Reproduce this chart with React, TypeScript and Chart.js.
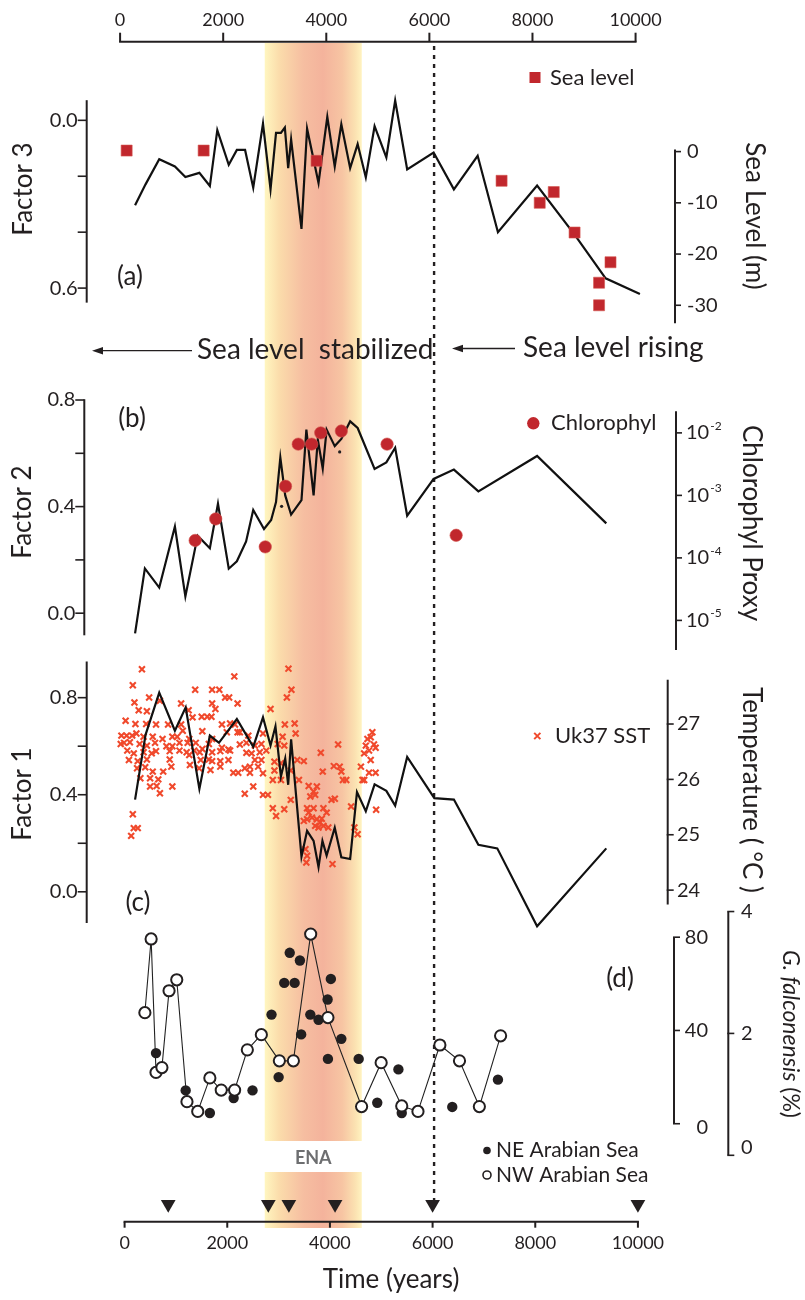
import React, { useEffect, useRef } from "react";
import { Chart, registerables } from "chart.js";

Chart.register(...registerables);

const W = 805;
const H = 1300;

// ---------------- data ----------------
const yearTicks = [0, 2000, 4000, 6000, 8000, 10000];
const enaStartYear = 2730;
const enaEndYear = 4620;
const seaLevelTransitionYear = 6000;
const datingYears = [850, 2800, 3200, 4100, 6000, 10000];

const factor3Ticks = [0, 0.2, 0.4, 0.6];
const factor3Labeled = [0, 0.6];
const seaLevelTicks = [0, -10, -20, -30];
const factor2Ticks = [0.8, 0.6, 0.4, 0.2, 0];
const factor2Labeled = [0.8, 0.4, 0];
const chlorophylTicks = [1e-2, 1e-3, 1e-4, 1e-5];
const factor1Ticks = [0.8, 0.6, 0.4, 0.2, 0];
const factor1Labeled = [0.8, 0.4, 0];
const temperatureTicks = [27, 26, 25, 24];
const neTicks = [80, 40, 0];
const nwTicks = [4, 2, 0];

const factor3Years = [204, 408, 675, 980, 1184, 1457, 1661, 1806, 2029, 2187, 2347, 2506, 2696, 2843, 2950, 3045, 3122, 3187, 3244, 3446, 3555, 3778, 3949, 4094, 4222, 4394, 4540, 4699, 4870, 5099, 5271, 5505, 6020, 6415, 6878, 7273, 8036, 8766, 9371, 10039];
const factor3Values = [0.304, 0.229, 0.139, 0.165, 0.203, 0.188, 0.235, 0.035, 0.159, 0.106, 0.106, 0.241, 0.012, 0.247, 0.045, 0.045, 0.026, 0.171, 0.068, 0.388, 0.03, 0.224, -0.012, 0.165, 0.014, 0.171, 0.085, 0.204, 0.021, 0.133, -0.071, 0.176, 0.115, 0.247, 0.127, 0.4, 0.233, 0.409, 0.565, 0.621];

const seaLevelYears = [40, 1540, 3740, 7344, 8087, 8360, 8766, 9466, 9243, 9243];
const seaLevelValues = [0.2, 0.2, -1.8, -5.7, -10, -7.9, -15.8, -21.6, -25.6, -30];

const factor2Years = [204, 395, 675, 980, 1184, 1424, 1661, 1819, 2029, 2187, 2367, 2506, 2716, 2855, 2950, 3034, 3129, 3244, 3446, 3541, 3682, 3764, 3860, 3936, 4094, 4222, 4394, 4540, 4870, 5099, 5271, 5505, 6020, 6415, 6892, 8036, 9384];
const factor2Values = [-0.076, 0.168, 0.096, 0.325, 0.063, 0.291, 0.244, 0.411, 0.167, 0.195, 0.269, 0.387, 0.316, 0.35, 0.417, 0.584, 0.442, 0.37, 0.424, 0.689, 0.442, 0.652, 0.543, 0.689, 0.627, 0.654, 0.72, 0.695, 0.541, 0.566, 0.621, 0.366, 0.504, 0.539, 0.457, 0.59, 0.337];

const chlorophylYears = [1375, 1775, 2740, 3135, 3383, 3644, 3821, 4222, 5113, 6459];
const chlorophylValues = [1.9e-4, 4.2e-4, 1.5e-4, 1.4e-3, 6.6e-3, 6.6e-3, 1.0e-2, 1.07e-2, 6.6e-3, 2.3e-4];

const factor2DotYears = [3059, 4190];
const factor2DotValues = [0.401, 0.605];

const factor1Years = [204, 408, 675, 980, 1190, 1457, 1661, 1838, 2187, 2506, 2696, 2843, 2939, 3045, 3129, 3187, 3244, 3446, 3555, 3682, 3778, 3854, 3936, 4094, 4222, 4394, 4527, 4699, 4870, 5099, 5271, 5505, 6034, 6415, 6892, 7260, 8036, 9384];
const factor1Values = [0.38, 0.647, 0.821, 0.664, 0.76, 0.424, 0.644, 0.614, 0.712, 0.597, 0.719, 0.603, 0.682, 0.475, 0.549, 0.441, 0.628, 0.145, 0.251, 0.21, 0.102, 0.21, 0.149, 0.264, 0.142, 0.135, 0.411, 0.332, 0.443, 0.416, 0.355, 0.556, 0.386, 0.38, 0.194, 0.179, -0.142, 0.179];

const uk37Years = [
  338, 160, 2137, 1375, 1705, 1845, 478, 192, 688, 1101, 1705, 1959, 2036, 2201, 275, 434, 1247, 1769, 20, 211,
  421, 612, 847, 1101, 1324, 1502, 1610, 1692, 1896, 2055, 2150, 2245, -62, 40, 148, 230, 370, 548, 739, 930,
  1025, 1133, 1260, 1514, 1705, 1991, 2201, -11, 103, 294, 434, 593, 815, 930, 1069, 1228, 1387, 1514, 1641, 1896,
  2023, 2245, 2373, 52, 179, 370, 529, 612, 879, 1069, 1209, 1355, 1464, 1705, 1864, 2055, -75, 84, 256, 434,
  879, 1260, 1483, 1641, 1705, 1864, 2023, 2373, 243, 402, 548, 752, 910, 1273, 1451, 1673, 1864, 2118, 2214, 2341,
  307, 497, 656, 624, 497, 930, 688, 2341, 160, 179, 256, 128,
  3192, 3250, 3161, 2843, 3122, 3313, 3332, 2410, 2696, 2538, 2665, 3078, 3110, 2983, 2474, 2633, 2760, 2538, 2665, 2442,
  2601, 2919, 3046, 3364, 3491, 3237, 2919, 2696, 2442, 2887, 3046, 3396, 2506, 2696, 2792, 3237, 2887, 3110, 2951, 3586,
  3745, 3682, 3618, 3713, 3555, 3682, 3586, 3650, 3491, 3555, 3745, 3809, 3873, 3936, 4031, 4095, 3841, 3873, 3968, 3777,
  3713, 3523, 3555, 3822, 3860, 4159, 4076, 4190, 4222, 4254, 4318, 4413, 4476, 4540, 4604, 4635, 4667, 4762, 4826, 4794,
  4731, 4858, 4890, 4794, 4762, 4890, 4667, 4699, 4900, 3540, 4050,
];
const uk37Temps = [
  27.99, 27.7, 27.86, 27.62, 27.62, 27.62, 27.48, 27.39, 27.42, 27.37, 27.37, 27.48, 27.48, 27.37, 27.25, 27.23, 27.25, 27.27, 27.06, 27.0,
  27.0, 26.99, 26.99, 26.99, 27.12, 27.13, 27.13, 27.13, 26.99, 27.01, 26.99, 26.85, 26.79, 26.79, 26.79, 26.83, 26.77, 26.77, 26.73, 26.77,
  26.77, 26.88, 26.73, 26.87, 26.73, 26.85, 26.85, 26.66, 26.67, 26.64, 26.61, 26.66, 26.6, 26.6, 26.66, 26.66, 26.66, 26.55, 26.64, 26.57,
  26.54, 26.63, 26.66, 26.52, 26.47, 26.49, 26.47, 26.51, 26.51, 26.52, 26.49, 26.52, 26.49, 26.49, 26.51, 26.52, 26.64, 26.35, 26.33, 26.36,
  26.36, 26.44, 26.35, 26.36, 26.33, 26.33, 26.35, 26.48, 26.2, 26.22, 26.14, 26.14, 26.23, 26.26, 26.2, 26.17, 26.23, 26.12, 26.12, 26.2,
  26.02, 26.02, 26.0, 25.88, 25.87, 25.87, 25.75, 25.74, 25.37, 25.12, 25.12, 24.98,
  28.0, 27.62, 27.48, 27.27, 26.99, 27.01, 26.83, 26.79, 26.83, 26.61, 26.64, 26.77, 26.61, 26.64, 26.47, 26.49, 26.52, 26.35, 26.35, 26.23,
  26.23, 26.32, 26.29, 26.35, 26.33, 26.16, 26.16, 26.11, 26.12, 25.99, 25.99, 25.99, 25.87, 25.72, 25.72, 25.63, 25.48, 25.46, 25.34, 25.88,
  25.87, 25.78, 25.69, 25.72, 25.48, 25.48, 25.4, 25.31, 25.25, 25.28, 25.28, 25.22, 25.48, 25.4, 25.63, 25.65, 25.29, 25.16, 25.13, 25.13,
  25.16, 24.74, 24.62, 26.48, 26.14, 26.63, 26.24, 26.23, 26.14, 25.99, 25.99, 25.51, 25.13, 25.01, 26.23, 25.99, 26.47, 26.52, 26.85, 26.76,
  26.73, 26.63, 26.57, 26.35, 26.12, 26.12, 25.99, 26.61, 25.45, 24.5, 24.47,
];

const nwYears = [395, 517, 612, 727, 866, 1016, 1215, 1425, 1661, 1883, 2143, 2391, 2664, 3015, 3288, 3625, 3961, 4617, 4998, 5399, 5715, 6142, 6524, 6911, 7325];
const nwValues = [2.34, 3.55, 1.36, 1.44, 2.7, 2.88, 0.88, 0.72, 1.27, 1.07, 1.07, 1.73, 1.98, 1.55, 1.55, 3.63, 2.26, 0.8, 1.52, 0.81, 0.72, 1.81, 1.55, 0.8, 1.96];

const neYears = [612, 1190, 1661, 2124, 2492, 2862, 3001, 3110, 3217, 3312, 3415, 3440, 3618, 3778, 3955, 4018, 3961, 4222, 4560, 4922, 5334, 5399, 6383, 7273];
const neValues = [30.3, 14.3, 4.6, 11.0, 14.3, 46.8, 20.0, 60.4, 73.3, 60.4, 70.0, 38.3, 46.8, 44.6, 53.3, 62.1, 27.8, 36.4, 27.8, 9.0, 23.3, 4.6, 7.2, 18.9];

// ---------------- style / layout ----------------
const INK = "#231f20";
const RED = "#c1272d";
const SST = "#f0492c";
const FONT = 'Lato, "Open Sans", "DejaVu Sans", sans-serif';

function xRange(v1: number, p1: number, v2: number, p2: number) {
  const k = (p2 - p1) / (v2 - v1);
  const min = v1 - p1 / k;
  return { min, max: min + W / k };
}
function yRange(v1: number, p1: number, v2: number, p2: number) {
  const k = (p2 - p1) / (v1 - v2);
  if (k > 0) {
    const max = v1 + p1 / k;
    return { min: max - H / k, max, reverse: false };
  }
  const kk = -k;
  const min = v1 - p1 / kk;
  return { min, max: min + H / kk, reverse: true };
}
function logRange(e1: number, p1: number, e2: number, p2: number) {
  const k = (p2 - p1) / (e1 - e2);
  const maxE = e1 + p1 / k;
  const minE = maxE - H / k;
  return { min: Math.pow(10, minE), max: Math.pow(10, maxE) };
}

const pts = (xs: number[], ys: number[]) => xs.map((x, i) => ({ x, y: ys[i] }));
const font = (size: number, weight = "normal", style = "normal") => `${style} ${weight} ${size}px ${FONT}`;

function txt(ctx: CanvasRenderingContext2D, s: string, x: number, y: number, size: number, align: CanvasTextAlign = "left", opt: any = {}) {
  ctx.save();
  ctx.font = font(size, opt.weight || "normal", opt.style || "normal");
  ctx.fillStyle = opt.color || INK;
  ctx.textAlign = align;
  ctx.textBaseline = "middle";
  ctx.translate(x, y);
  if (opt.rotate) ctx.rotate(opt.rotate);
  ctx.fillText(s, 0, 0);
  ctx.restore();
}
function seg(ctx: CanvasRenderingContext2D, x1: number, y1: number, x2: number, y2: number, w = 2, color = INK) {
  ctx.save();
  ctx.strokeStyle = color;
  ctx.lineWidth = w;
  ctx.beginPath();
  ctx.moveTo(x1, y1);
  ctx.lineTo(x2, y2);
  ctx.stroke();
  ctx.restore();
}
function arrowLeft(ctx: CanvasRenderingContext2D, xFrom: number, xTo: number, y: number) {
  seg(ctx, xFrom, y, xTo + 8, y, 1.3);
  ctx.save();
  ctx.fillStyle = INK;
  ctx.beginPath();
  ctx.moveTo(xTo, y);
  ctx.lineTo(xTo + 11, y - 3.8);
  ctx.lineTo(xTo + 11, y + 3.8);
  ctx.closePath();
  ctx.fill();
  ctx.restore();
}

const leftAxes = [
  { id: "yF3", x: 86.7, from: -0.072, to: 0.652, ticks: factor3Ticks, labeled: factor3Labeled, title: "Factor 3", titleX: 24, titleY: 189 },
  { id: "yF2", x: 84.3, from: 0.803, to: -0.083, ticks: factor2Ticks, labeled: factor2Labeled, title: "Factor 2", titleX: 23, titleY: 512 },
  { id: "yF1", x: 86.7, from: 0.949, to: -0.129, ticks: factor1Ticks, labeled: factor1Labeled, title: "Factor 1", titleX: 23, titleY: 794 },
];

const rightAxes = [
  { id: "ySL", x: 675, from: 0.4, to: -33.5, ticks: seaLevelTicks, labelX: 687, align: "left", kind: "num", lastDy: 0, title: "Sea Level (m)", titleX: 754, titleY: 216 },
  { id: "yChl", x: 676, from: Math.pow(10, -1.653), to: Math.pow(10, -5.474), ticks: chlorophylTicks, labelX: 686, align: "left", kind: "pow", lastDy: 0, title: "Chlorophyl Proxy", titleX: 751, titleY: 523 },
  { id: "yT", x: 667.7, from: 27.8, to: 23.74, ticks: temperatureTicks, labelX: 677, align: "left", kind: "num", lastDy: 0, title: "Temperature ( \u00b0C )", titleX: 751, titleY: 790 },
  { id: "yNE", x: 674, from: 80, to: 0, ticks: neTicks, labelX: 708, align: "right", kind: "num", lastDy: 4, title: "", titleX: 0, titleY: 0 },
  { id: "yNW", x: 728.3, from: 4, to: 0, ticks: nwTicks, labelX: 741, align: "left", kind: "num", lastDy: -8, title: "", titleX: 0, titleY: 0 },
];

const decorPlugin = {
  id: "decor",
  beforeDatasetsDraw(chart: any) {
    const ctx: CanvasRenderingContext2D = chart.ctx;
    const xs = chart.scales.x;
    const x0 = xs.getPixelForValue(enaStartYear);
    const x1 = xs.getPixelForValue(enaEndYear);
    const g = ctx.createLinearGradient(x0, 0, x1, 0);
    g.addColorStop(0, "#fff6c0");
    g.addColorStop(0.15, "#fbdcab");
    g.addColorStop(0.4, "#f6bea1");
    g.addColorStop(0.6, "#f4b39c");
    g.addColorStop(0.8, "#f7c5a3");
    g.addColorStop(0.93, "#fbe1b1");
    g.addColorStop(1, "#fff3c0");
    ctx.save();
    ctx.fillStyle = g;
    ctx.fillRect(x0, 43, x1 - x0, 1141 - 43);
    ctx.fillRect(x0, 1172, x1 - x0, 1228 - 1172);
    ctx.restore();

    const xd = xs.getPixelForValue(seaLevelTransitionYear) + 1.5;
    ctx.save();
    ctx.setLineDash([4, 5]);
    ctx.strokeStyle = INK;
    ctx.lineWidth = 2.4;
    ctx.beginPath();
    ctx.moveTo(xd, 46);
    ctx.lineTo(xd, 1205);
    ctx.stroke();
    ctx.restore();
  },
  afterDatasetsDraw(chart: any) {
    const ctx: CanvasRenderingContext2D = chart.ctx;
    const S = chart.scales;

    // top axis
    const xt = S.xTop;
    const topY = 41.7;
    seg(ctx, xt.getPixelForValue(0) - 1, topY, xt.getPixelForValue(10000) + 1, topY, 2);
    yearTicks.forEach((t) => {
      const px = xt.getPixelForValue(t);
      seg(ctx, px, topY, px, topY - 9, 2);
      txt(ctx, String(t), px, 20, 18, "center");
    });

    // bottom axis
    const xb = S.x;
    const botY = 1221.7;
    seg(ctx, xb.getPixelForValue(0) - 1, botY, xb.getPixelForValue(10000) + 1, botY, 2);
    yearTicks.forEach((t) => {
      const px = xb.getPixelForValue(t);
      seg(ctx, px, botY, px, botY + 6, 2);
      txt(ctx, String(t), px, 1243, 18, "center");
    });
    txt(ctx, "Time (years)", 391, 1280, 26, "center");

    // left axes
    leftAxes.forEach((a) => {
      const sc = S[a.id];
      seg(ctx, a.x, sc.getPixelForValue(a.from), a.x, sc.getPixelForValue(a.to), 2);
      a.ticks.forEach((t) => {
        const py = sc.getPixelForValue(t);
        seg(ctx, a.x - 9, py, a.x, py, 1.6);
        if (a.labeled.includes(t)) txt(ctx, t.toFixed(1), a.x - 9, py, 20, "right");
      });
      txt(ctx, a.title, a.titleX, a.titleY, 26, "center", { rotate: -Math.PI / 2 });
    });

    // right axes
    rightAxes.forEach((a) => {
      const sc = S[a.id];
      seg(ctx, a.x, sc.getPixelForValue(a.from), a.x, sc.getPixelForValue(a.to), 2);
      a.ticks.forEach((t, i) => {
        const py = sc.getPixelForValue(t);
        seg(ctx, a.x - 1, py, a.x + 6, py, 1.6);
        const dy = i === a.ticks.length - 1 ? a.lastDy : 0;
        if (a.kind === "pow") {
          const e = Math.round(Math.log10(t));
          txt(ctx, "10", a.labelX, py, 20, "left");
          ctx.save();
          ctx.font = font(20);
          const w = ctx.measureText("10").width;
          ctx.restore();
          txt(ctx, String(e), a.labelX + w + 1, py - 7, 12, "left");
        } else {
          txt(ctx, String(t), a.labelX, py + dy, 20, a.align as CanvasTextAlign);
        }
      });
      if (a.title) txt(ctx, a.title, a.titleX, a.titleY, 26, "center", { rotate: Math.PI / 2 });
    });

    // G. falconensis (%)
    ctx.save();
    ctx.translate(790, 1034);
    ctx.rotate(Math.PI / 2);
    ctx.textBaseline = "middle";
    ctx.fillStyle = INK;
    ctx.font = font(23, "normal", "italic");
    const p1 = "G. falconensis";
    const w1 = ctx.measureText(p1).width;
    ctx.font = font(23);
    const p2 = " (%)";
    const w2 = ctx.measureText(p2).width;
    const start = -(w1 + w2) / 2;
    ctx.textAlign = "left";
    ctx.font = font(23, "normal", "italic");
    ctx.fillText(p1, start, 0);
    ctx.font = font(23);
    ctx.fillText(p2, start + w1, 0);
    ctx.restore();

    // panel letters
    txt(ctx, "(a)", 130, 277, 26, "center");
    txt(ctx, "(b)", 132, 419, 26, "center");
    txt(ctx, "(c)", 138, 903, 26, "center");
    txt(ctx, "(d)", 620, 979, 26, "center");

    // sea level annotations
    arrowLeft(ctx, 192, 92, 350.7);
    txt(ctx, "Sea level  stabilized", 197, 350, 28, "left");
    arrowLeft(ctx, 515, 452, 348.5);
    txt(ctx, "Sea level rising", 523, 348, 28, "left");

    // legends
    ctx.save();
    ctx.fillStyle = RED;
    ctx.fillRect(529.5, 72, 11, 11);
    ctx.beginPath();
    ctx.arc(533.3, 423.3, 6.2, 0, Math.PI * 2);
    ctx.fill();
    ctx.strokeStyle = SST;
    ctx.lineWidth = 2;
    ctx.beginPath();
    ctx.moveTo(534.2, 732.9); ctx.lineTo(540.4, 739.1);
    ctx.moveTo(540.4, 732.9); ctx.lineTo(534.2, 739.1);
    ctx.stroke();
    ctx.fillStyle = INK;
    ctx.beginPath();
    ctx.arc(487, 1150.5, 3.8, 0, Math.PI * 2);
    ctx.fill();
    ctx.strokeStyle = INK;
    ctx.lineWidth = 1.6;
    ctx.fillStyle = "#fff";
    ctx.beginPath();
    ctx.arc(487, 1175, 4, 0, Math.PI * 2);
    ctx.fill();
    ctx.stroke();
    ctx.restore();
    txt(ctx, "Sea level", 550, 77.5, 22, "left");
    txt(ctx, "Chlorophyl", 551, 423, 22, "left");
    txt(ctx, "Uk37 SST", 555, 736, 22, "left");
    txt(ctx, "NE Arabian Sea", 496, 1150, 21, "left");
    txt(ctx, "NW Arabian Sea", 496, 1175, 21, "left");

    // ENA label
    const ex = (S.x.getPixelForValue(enaStartYear) + S.x.getPixelForValue(enaEndYear)) / 2;
    txt(ctx, "ENA", ex, 1158, 18, "center", { weight: "bold", color: "#6d6e70" });
  },
};

export default function App() {
  const ref = useRef<HTMLCanvasElement>(null);

  useEffect(() => {
    const canvas = ref.current;
    if (!canvas) return;

    const xr = xRange(0, 118.6, 10000, 643);
    const xtr = xRange(0, 114, 10000, 640.6);
    const rF3 = yRange(0, 113.3, 0.6, 283.3);
    const rSL = yRange(0, 145, -30, 300.7);
    const rF2 = yRange(0.8, 396.7, 0, 612.7);
    const rChl = logRange(-2, 430, -5, 620);
    const rF1 = yRange(0.8, 698.3, 0, 895);
    const rT = yRange(27, 725, 24, 893.3);
    const rNE = yRange(80, 941, 0, 1130);
    const rNW = yRange(4, 915, 0, 1162);
    const rDate = yRange(0, 1211.5, 1, 1111.5);

    const hidden = (r: any, extra: any = {}) => ({ type: "linear", axis: "y", display: false, bounds: "data", ...r, ...extra });

    const lineDs = (data: any, yAxisID: string) => ({
      type: "scatter",
      data,
      xAxisID: "x",
      yAxisID,
      showLine: true,
      borderColor: "#111",
      borderWidth: 2.2,
      pointRadius: 0,
      tension: 0,
      order: 1,
    });

    const chart = new Chart(canvas, {
      type: "scatter",
      data: {
        datasets: [
          lineDs(pts(factor3Years, factor3Values), "yF3"),
          {
            data: pts(seaLevelYears, seaLevelValues),
            xAxisID: "x",
            yAxisID: "ySL",
            pointStyle: "rect",
            pointRadius: 7.8,
            backgroundColor: RED,
            borderColor: "#d4554f",
            borderWidth: 0.6,
            order: 0,
          },
          lineDs(pts(factor2Years, factor2Values), "yF2"),
          {
            data: pts(chlorophylYears, chlorophylValues),
            xAxisID: "x",
            yAxisID: "yChl",
            pointStyle: "circle",
            pointRadius: 6.2,
            backgroundColor: RED,
            borderColor: "#d4554f",
            borderWidth: 0.6,
            order: 0,
          },
          {
            data: pts(factor2DotYears, factor2DotValues),
            xAxisID: "x",
            yAxisID: "yF2",
            pointRadius: 1.6,
            backgroundColor: INK,
            borderWidth: 0,
            order: 0,
          },
          lineDs(pts(factor1Years, factor1Values), "yF1"),
          {
            data: pts(uk37Years, uk37Temps),
            xAxisID: "x",
            yAxisID: "yT",
            pointStyle: "crossRot",
            pointRadius: 4.2,
            borderColor: SST,
            borderWidth: 2.1,
            order: 2,
          },
          {
            type: "scatter",
            data: pts(nwYears, nwValues),
            xAxisID: "x",
            yAxisID: "yNW",
            showLine: true,
            borderColor: "#222",
            borderWidth: 1.1,
            pointRadius: 5.6,
            pointBackgroundColor: "#fff",
            pointBorderColor: INK,
            pointBorderWidth: 2,
            tension: 0,
            order: 0,
          },
          {
            data: pts(neYears, neValues),
            xAxisID: "x",
            yAxisID: "yNE",
            pointRadius: 5.2,
            backgroundColor: INK,
            borderWidth: 0,
            order: 1,
          },
          {
            data: datingYears.map((x) => ({ x, y: 0 })),
            xAxisID: "x",
            yAxisID: "yDate",
            pointStyle: "triangle",
            rotation: 180,
            pointRadius: 8.5,
            backgroundColor: INK,
            borderWidth: 0,
            order: 0,
          },
        ] as any,
      },
      options: {
        responsive: false,
        animation: false,
        devicePixelRatio: 1,
        events: [],
        layout: { padding: 0 },
        plugins: {
          legend: { display: false },
          tooltip: { enabled: false },
          title: { display: false },
        },
        scales: {
          x: { type: "linear", axis: "x", display: false, bounds: "data", ...xr },
          xTop: { type: "linear", axis: "x", display: false, bounds: "data", ...xtr },
          yF3: hidden(rF3),
          ySL: hidden(rSL),
          yF2: hidden(rF2),
          yChl: { type: "logarithmic", axis: "y", display: false, bounds: "data", ...rChl },
          yF1: hidden(rF1),
          yT: hidden(rT),
          yNE: hidden(rNE),
          yNW: hidden(rNW),
          yDate: hidden(rDate),
        } as any,
      },
      plugins: [decorPlugin],
    } as any);

    return () => chart.destroy();
  }, []);

  return (
    <div style={{ position: "absolute", left: 0, top: 0, width: W, height: H, background: "#fff" }}>
      <canvas ref={ref} width={W} height={H} style={{ display: "block", width: W, height: H }} />
    </div>
  );
}
